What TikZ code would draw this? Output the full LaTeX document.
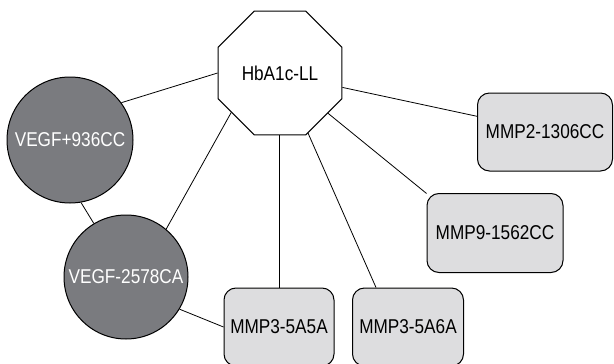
\documentclass[tikz,border=0pt]{standalone}
\usepackage{fontspec}
\setmainfont[FakeStretch=0.86]{Liberation Sans}
\usetikzlibrary{shapes.geometric,calc}
\definecolor{snpgray}{RGB}{122,123,127}
\definecolor{boxgray}{RGB}{221,221,223}
\begin{document}
\begin{tikzpicture}[x=1pt,y=-1pt, line join=round,
  every node/.style={inner sep=0pt, font=\fontsize{20}{23}\selectfont},
  hub/.style={draw, line width=1.1pt, fill=white, regular polygon, regular polygon sides=8, minimum size=134pt},
  snp/.style={draw, line width=1pt, circle, fill=snpgray, text=white},
  mmp/.style={draw, line width=1pt, rectangle, rounded corners=12pt, fill=boxgray, minimum height=78pt},
  link/.style={line width=0.8pt}]
\useasboundingbox (0,0) rectangle (614,364);
\node[hub] (hba) at (280,73) {HbA1c-LL};
\node[snp, minimum size=126pt] (v936) at (70,140) {VEGF+936CC};
\node[snp, minimum size=124pt] (v2578) at (126,277) {VEGF-2578CA};
\node[mmp, minimum width=110pt] (m5a5a) at (279,327) {MMP3-5A5A};
\node[mmp, minimum width=111pt] (m5a6a) at (408,327) {MMP3-5A6A};
\node[mmp, minimum width=136pt, minimum height=79pt] (m9) at (495,233) {MMP9-1562CC};
\node[mmp, minimum width=135pt] (m2) at (545,132) {MMP2-1306CC};
\draw[link] (v936.36) -- (hba.west);
\draw[link] (v2578.50) -- (hba.219);
\draw[link] (v936.280) -- (v2578.121);
\draw[link] (v2578.329) -- (m5a5a.west);
\draw[link] (m5a5a.north) -- (m5a5a.north |- hba.south);
\draw[link] (m5a6a.129) -- (hba.295);
\draw[link] (m9.150) -- (hba.320);
\draw[link] (m2.167) -- (hba.347);
\end{tikzpicture}
\end{document}
